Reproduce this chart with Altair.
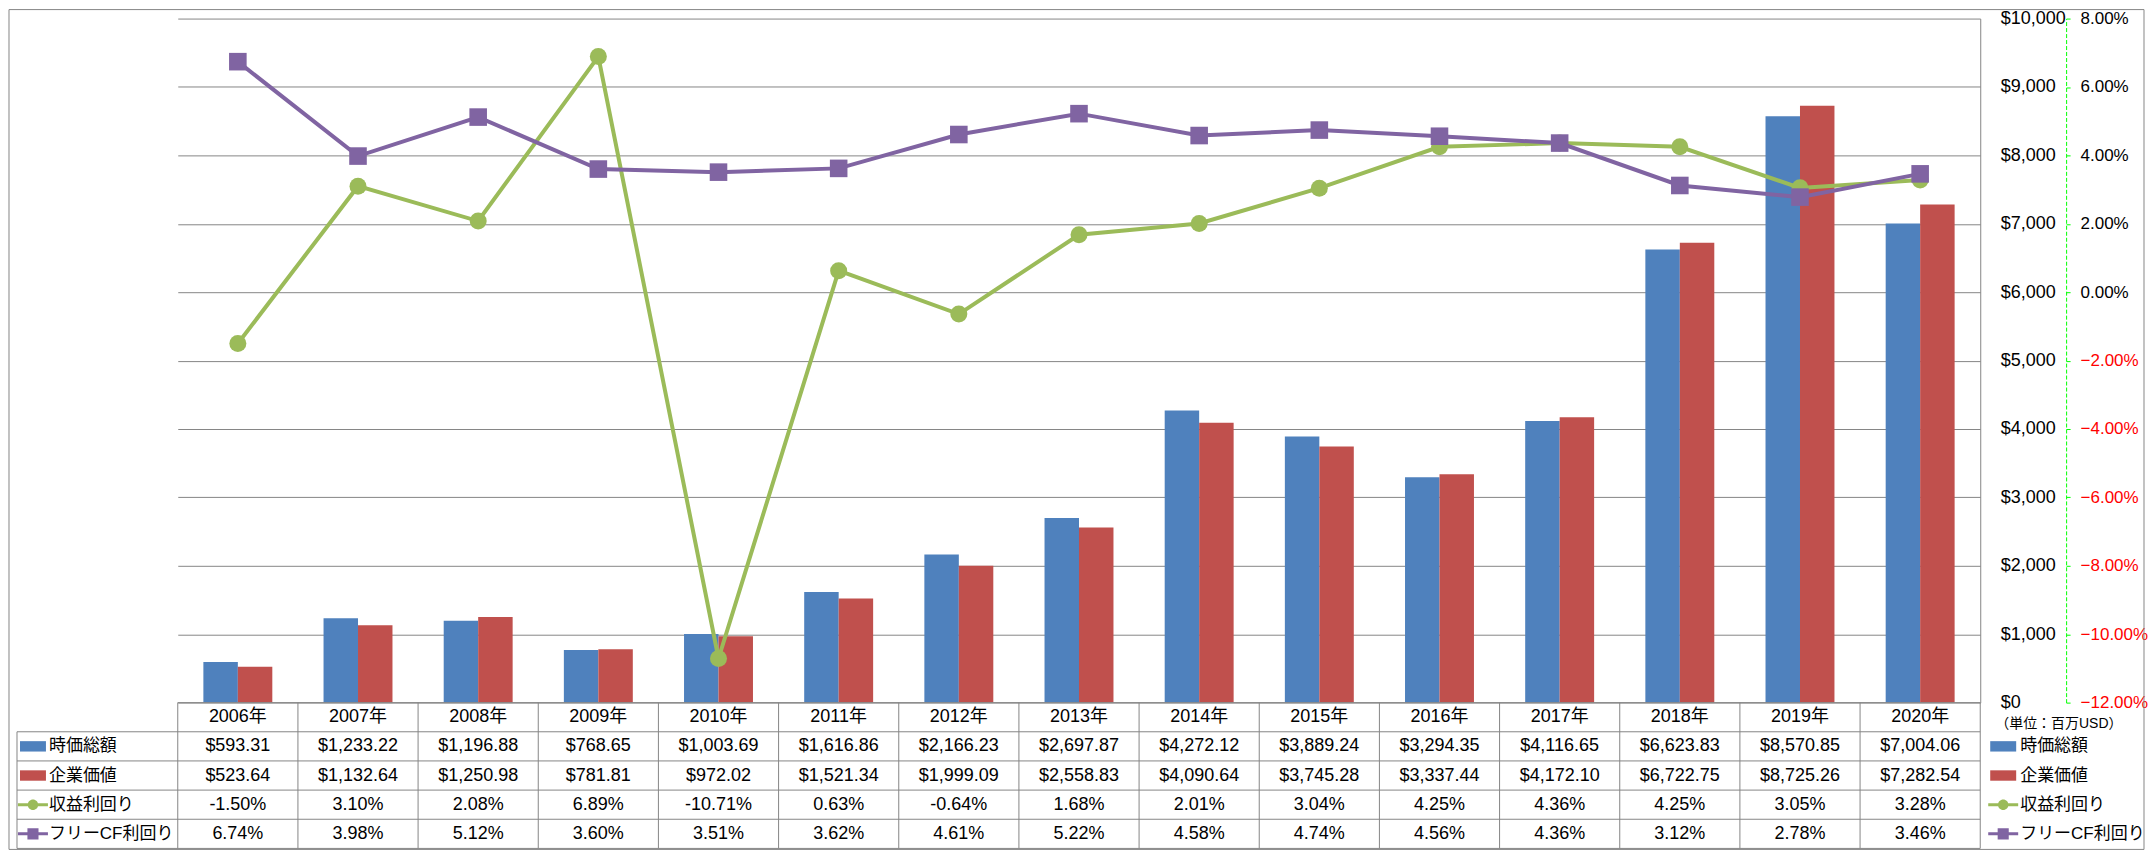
import altair as alt
import pandas as pd

# ---------------- data ----------------
years = ["2006年", "2007年", "2008年", "2009年", "2010年", "2011年", "2012年", "2013年",
         "2014年", "2015年", "2016年", "2017年", "2018年", "2019年", "2020年"]
market_cap = [593.31, 1233.22, 1196.88, 768.65, 1003.69, 1616.86, 2166.23, 2697.87,
              4272.12, 3889.24, 3294.35, 4116.65, 6623.83, 8570.85, 7004.06]
enterprise_value = [523.64, 1132.64, 1250.98, 781.81, 972.02, 1521.34, 1999.09, 2558.83,
                    4090.64, 3745.28, 3337.44, 4172.10, 6722.75, 8725.26, 7282.54]
earnings_yield = [-1.50, 3.10, 2.08, 6.89, -10.71, 0.63, -0.64, 1.68,
                  2.01, 3.04, 4.25, 4.36, 4.25, 3.05, 3.28]
fcf_yield = [6.74, 3.98, 5.12, 3.60, 3.51, 3.62, 4.61, 5.22,
             4.58, 4.74, 4.56, 4.36, 3.12, 2.78, 3.46]
row_names = ["時価総額", "企業価値", "収益利回り", "フリーCF利回り"]
unit_label = "（単位：百万USD）"
usd_ticks = [0, 1000, 2000, 3000, 4000, 5000, 6000, 7000, 8000, 9000, 10000]
pct_ticks = [-0.12, -0.10, -0.08, -0.06, -0.04, -0.02, 0.0, 0.02, 0.04, 0.06, 0.08]

# ---------------- style ----------------
FONT = "Liberation Sans, Noto Sans CJK JP, sans-serif"
BLUE, RED, GREEN, PURPLE = "#4F81BD", "#C0504D", "#9BBB59", "#8064A2"
GRID = "#868686"
W, H, TH = 1805, 685, 146
NCOL, NROW = 15, 5
colw = W / NCOL
roww = TH / NROW

def cx(px):  # page x (ref) -> table column units
    return (px - 177) / colw

def cy(py):  # page y (ref) -> table row units
    return (py - 702) / roww

# ---------------- top plot ----------------
bar_df = pd.DataFrame({
    "year": years * 2,
    "series": [row_names[0]] * len(years) + [row_names[1]] * len(years),
    "value": market_cap + enterprise_value,
})
green_df = pd.DataFrame({"year": years, "value": [v / 100 for v in earnings_yield]})
purple_df = pd.DataFrame({"year": years, "value": [v / 100 for v in fcf_yield]})

xscale = alt.Scale(domain=years, paddingInner=0, paddingOuter=0)
xenc = alt.X("year:N", sort=years, scale=xscale, axis=None)

usd_axis = alt.Axis(orient="right", values=usd_ticks, format="$,.0f", grid=True,
                    gridColor=GRID, gridWidth=1, domain=True, domainColor=GRID,
                    ticks=False, tickSize=0, labelPadding=20, labelAlign="left",
                    labelBaseline="middle", labelFont=FONT, labelFontSize=18,
                    labelColor="black", labelFlush=False, title=None)

bars = alt.Chart(bar_df).mark_bar().encode(
    x=xenc,
    xOffset=alt.XOffset("series:N", sort=row_names[:2],
                        scale=alt.Scale(domain=row_names[:2], paddingInner=0, paddingOuter=0.743)),
    y=alt.Y("value:Q", scale=alt.Scale(domain=[0, 10000], nice=False), axis=usd_axis),
    color=alt.Color("series:N", scale=alt.Scale(domain=row_names[:2], range=[BLUE, RED]), legend=None),
)

pct_axis = alt.Axis(orient="right", offset=86, values=pct_ticks, format=".2%", grid=False,
                    domain=True, domainColor="#00FF00", domainDash=[4, 2], domainWidth=1,
                    ticks=True, tickColor="#00FF00", tickSize=4, labelPadding=10,
                    labelAlign="left", labelBaseline="middle", labelFont=FONT,
                    labelFontSize=17, labelFlush=False, title=None,
                    labelColor={"condition": {"test": "datum.value < 0", "value": "#FF0000"},
                                "value": "#000000"})
pscale = alt.Scale(domain=[-0.12, 0.08], nice=False, zero=False)

def yenc():
    return alt.Y("value:Q", scale=pscale, axis=pct_axis)

g_line = alt.Chart(green_df).mark_line(color=GREEN, strokeWidth=4).encode(x=xenc, y=yenc())
g_pts = alt.Chart(green_df).mark_point(filled=True, opacity=1, color=GREEN, shape="circle",
                                       size=290, strokeWidth=0).encode(x=xenc, y=yenc())
p_line = alt.Chart(purple_df).mark_line(color=PURPLE, strokeWidth=4).encode(x=xenc, y=yenc())
p_pts = alt.Chart(purple_df).mark_point(filled=True, opacity=1, color=PURPLE, shape="square",
                                        size=310, strokeWidth=0).encode(x=xenc, y=yenc())

lines = alt.layer(g_line, g_pts, p_line, p_pts)
top = alt.layer(bars, lines).resolve_scale(y="independent").properties(width=W, height=H)

# ---------------- data table ----------------
cells = []
for i, yname in enumerate(years):
    cells.append({"x": i + 0.5, "y": 0.5, "text": yname})
    cells.append({"x": i + 0.5, "y": 1.5, "text": f"${market_cap[i]:,.2f}"})
    cells.append({"x": i + 0.5, "y": 2.5, "text": f"${enterprise_value[i]:,.2f}"})
    cells.append({"x": i + 0.5, "y": 3.5, "text": f"{earnings_yield[i]:.2f}%"})
    cells.append({"x": i + 0.5, "y": 4.5, "text": f"{fcf_yield[i]:.2f}%"})
cell_df = pd.DataFrame(cells)

XL = cx(16)
hrules = pd.DataFrame(
    [{"x": 0, "x2": NCOL, "y": 0}] + [{"x": XL, "x2": NCOL, "y": r} for r in range(1, NROW + 1)]
)
vrules = pd.DataFrame(
    [{"x": c, "y": 0, "y2": NROW} for c in range(0, NCOL + 1)] + [{"x": XL, "y": 1, "y2": NROW}]
)

RECT_PATH = "M-1,-0.4H1V0.4H-1Z"
CIRC_PATH = "M-1,-0.1H1V0.1H-1Z M-0.35,0A0.35,0.35 0 1,1 0.35,0A0.35,0.35 0 1,1 -0.35,0Z"
SQ_PATH = "M-1,-0.1H1V0.1H-1Z M-0.37,-0.37H0.37V0.37H-0.37Z"
sym_paths = [RECT_PATH, RECT_PATH, CIRC_PATH, SQ_PATH]
sym_colors = [BLUE, RED, GREEN, PURPLE]
sym_sizes = [676, 676, 900, 900]

syms, labels = [], []
for k, name in enumerate(row_names):
    for sx, lx in ((cx(32), cx(48)), (cx(2005), cx(2022))):
        syms.append({"x": sx, "y": k + 1.5, "path": sym_paths[k], "color": sym_colors[k],
                     "size": sym_sizes[k]})
        labels.append({"x": lx, "y": k + 1.5, "text": name, "fs": 17})
labels.append({"x": cx(1997), "y": cy(723), "text": unit_label, "fs": 14})
sym_df = pd.DataFrame(syms)
lab_df = pd.DataFrame(labels)
border_df = pd.DataFrame([{"x": cx(8), "x2": cx(2146), "y": cy(8), "y2": cy(849)}])

txs = alt.Scale(domain=[0, NCOL], nice=False, zero=False)
tys = alt.Scale(domain=[0, NROW], nice=False, zero=False, reverse=True)
TX = lambda f="x": alt.X(f"{f}:Q", scale=txs, axis=None)
TY = lambda f="y": alt.Y(f"{f}:Q", scale=tys, axis=None)

t_text = alt.Chart(cell_df).mark_text(font=FONT, fontSize=18, align="center",
                                      baseline="middle", color="black").encode(
    x=TX(), y=TY(), text="text:N")
t_h = alt.Chart(hrules).mark_rule(color=GRID, strokeWidth=1).encode(x=TX(), x2="x2:Q", y=TY())
t_v = alt.Chart(vrules).mark_rule(color=GRID, strokeWidth=1).encode(x=TX(), y=TY(), y2="y2:Q")
t_sym = alt.Chart(sym_df).mark_point(filled=True, opacity=1, strokeWidth=0).encode(
    x=TX(), y=TY(),
    shape=alt.Shape("path:N", scale=None),
    color=alt.Color("color:N", scale=None),
    size=alt.Size("size:Q", scale=None),
)
t_lab = alt.Chart(lab_df).mark_text(font=FONT, align="left", baseline="middle",
                                    color="black").encode(
    x=TX(), y=TY(), text="text:N", size=alt.Size("fs:Q", scale=None))
t_border = alt.Chart(border_df).mark_rect(fillOpacity=0, stroke=GRID, strokeWidth=1).encode(
    x=TX(), x2="x2:Q", y=TY(), y2="y2:Q")

table = alt.layer(t_h, t_v, t_text, t_sym, t_lab, t_border).properties(width=W, height=TH)

chart = alt.vconcat(top, table, spacing=0, bounds="flush").properties(
    padding=0, background="white"
).configure_view(stroke=None)

chart.save("out.html", embed_options={"renderer": "svg", "actions": False})
